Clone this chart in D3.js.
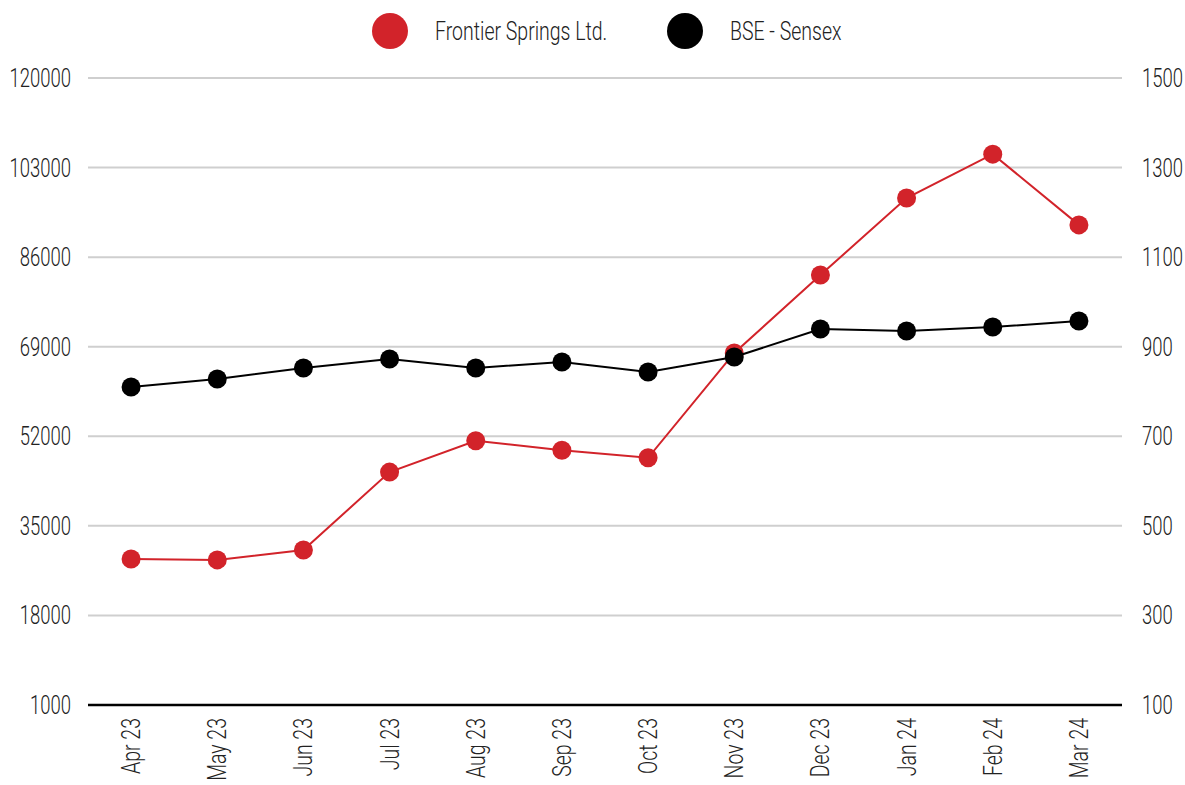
<!DOCTYPE html>
<html>
<head>
<meta charset="utf-8">
<script src="https://cdn.jsdelivr.net/npm/d3@7"></script>
<style>
  body { margin: 0; background: #fff; }
  svg text { font-family: "Roboto", sans-serif; font-weight: 300; fill: #222; }
</style>
</head>
<body>
<svg width="1185" height="785"></svg>
<script>
const months = ["Apr 23", "May 23", "Jun 23", "Jul 23", "Aug 23", "Sep 23",
  "Oct 23", "Nov 23", "Dec 23", "Jan 24", "Feb 24", "Mar 24"];
// Frontier Springs Ltd. (right axis)
const frontier = [426, 424, 446, 620, 690, 669, 652, 886, 1060, 1232, 1330, 1172];
// BSE - Sensex (left axis)
const sensex = [61350, 62870, 64960, 66670, 64960, 66100, 64200, 67050, 72360, 71980, 72740, 73880];
const leftTicks = [1000, 18000, 35000, 52000, 69000, 86000, 103000, 120000];
const rightTicks = [100, 300, 500, 700, 900, 1100, 1300, 1500];

const RED = "#d2232a";
const conf = { left: 88, right: 1122, top: 78, bottom: 705 };
// no condensed font installed, so squash text horizontally
const squeeze = 0.74;
const squeezeWide = 0.78;

const svg = d3.select("svg");

const x = d3.scaleBand().domain(months).range([conf.left, conf.right]);
const yL = d3.scaleLinear().domain([1000, 120000]).range([conf.bottom, conf.top]);
const yR = d3.scaleLinear().domain([100, 1500]).range([conf.bottom, conf.top]);
const cx = m => x(m) + x.bandwidth() / 2;

// gridlines
svg.append("g").selectAll("line")
  .data(leftTicks.slice(1))
  .enter().append("line")
  .attr("x1", conf.left).attr("x2", conf.right)
  .attr("y1", d => yL(d)).attr("y2", d => yL(d))
  .attr("stroke", "#cfcfcf").attr("stroke-width", 2);

// baseline
svg.append("line")
  .attr("x1", conf.left).attr("x2", conf.right)
  .attr("y1", conf.bottom).attr("y2", conf.bottom)
  .attr("stroke", "#000").attr("stroke-width", 2.5);

// left axis labels
svg.append("g").selectAll("text")
  .data(leftTicks)
  .enter().append("text")
  .attr("transform", d => `translate(71,${yL(d)}) scale(${squeeze},1)`)
  .attr("dy", "0.36em")
  .attr("text-anchor", "end")
  .attr("font-size", 25)
  .text(d => d);

// right axis labels
svg.append("g").selectAll("text")
  .data(rightTicks)
  .enter().append("text")
  .attr("transform", d => `translate(1142,${yR(d)}) scale(${squeeze},1)`)
  .attr("dy", "0.36em")
  .attr("font-size", 25)
  .text(d => d);

// x labels, rotated
svg.append("g").selectAll("text")
  .data(months)
  .enter().append("text")
  .attr("transform", d => `translate(${cx(d)},718) rotate(-90) scale(${squeezeWide},1)`)
  .attr("dy", "0.36em")
  .attr("text-anchor", "end")
  .attr("font-size", 25)
  .text(d => d);

function drawSeries(vals, yScale, color) {
  const pts = months.map((m, i) => [cx(m), yScale(vals[i])]);
  svg.append("path")
    .attr("d", d3.line()(pts))
    .attr("fill", "none")
    .attr("stroke", color)
    .attr("stroke-width", 2);
  svg.append("g").selectAll("circle")
    .data(pts)
    .enter().append("circle")
    .attr("cx", d => d[0]).attr("cy", d => d[1])
    .attr("r", 9.5)
    .attr("fill", color);
}

drawSeries(frontier, yR, RED);
drawSeries(sensex, yL, "#000");

// legend
const legend = [
  { name: "Frontier Springs Ltd.", color: RED, x: 390 },
  { name: "BSE - Sensex", color: "#000", x: 685 }
];
const lg = svg.append("g").selectAll("g")
  .data(legend)
  .enter().append("g");
lg.append("circle")
  .attr("cx", d => d.x).attr("cy", 31).attr("r", 18)
  .attr("fill", d => d.color);
lg.append("text")
  .attr("transform", d => `translate(${d.x + 45},31) scale(${squeezeWide},1)`)
  .attr("dy", "0.36em")
  .attr("font-size", 25)
  .text(d => d.name);
</script>
</body>
</html>
